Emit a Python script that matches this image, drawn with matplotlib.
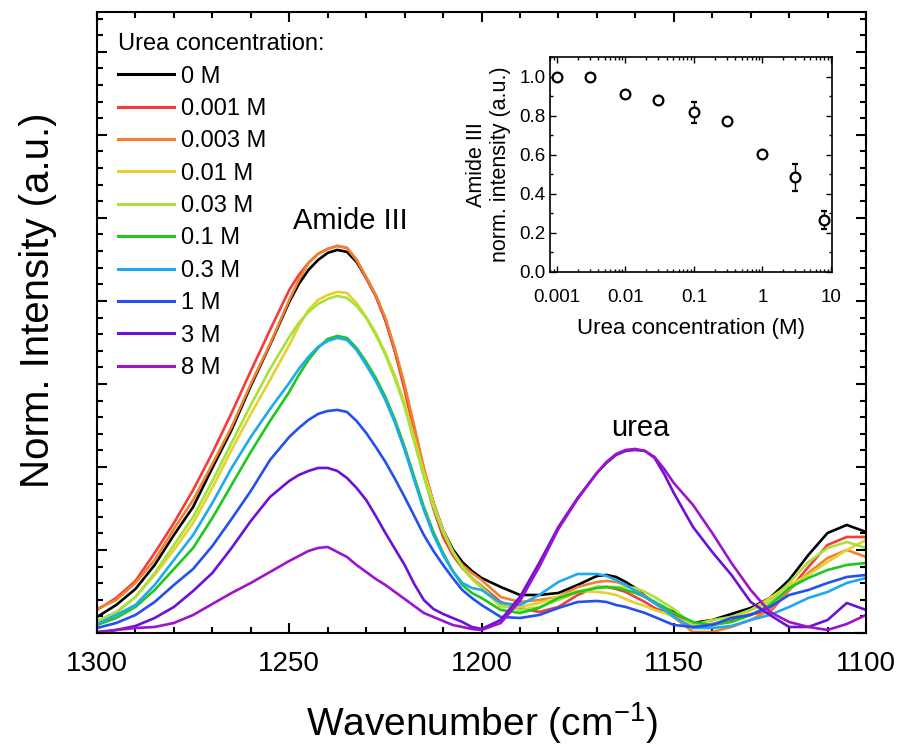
import numpy as np
import matplotlib.pyplot as plt
from matplotlib.ticker import MultipleLocator, LogLocator, NullFormatter

plt.rcParams['font.family'] = ['Liberation Sans', 'DejaVu Sans']

# sampling grid of the spectra (cm^-1), finer around the two peaks
wavenumber = [1300, 1295, 1290, 1285, 1280, 1275, 1270, 1265, 1260, 1255,
              1250, 1247.5, 1245, 1242.5, 1240, 1237.5, 1235, 1232.5, 1230, 1227.5, 1225,
              1222.5, 1220, 1217.5, 1215, 1212.5, 1210, 1207.5, 1205, 1202.5, 1200,
              1195, 1190, 1185, 1180, 1175,
              1170, 1167.5, 1165, 1162.5, 1160, 1157.5, 1155, 1152.5, 1150,
              1145, 1140, 1135, 1130, 1125, 1120, 1115, 1110, 1105, 1100]

# raw baseline-corrected intensities, one list per urea concentration
i_0M = [16, 28, 44, 68, 98, 126, 165, 203, 247, 288,
        331, 349, 363, 373, 380, 383, 381, 371, 355, 337, 313, 282, 246, 204, 163, 130, 103, 84, 71, 62, 55,
        46, 38, 38, 40, 48,
        57, 58, 56, 51, 45, 37, 30, 25, 21,
        10, 13, 19, 25, 35, 53, 78, 100, 108, 101]
i_0001M = [23, 35, 52, 80, 110, 143, 180, 220, 262, 303,
           343, 358, 370, 379, 384, 387, 385, 373, 355, 337, 313, 281, 243, 200, 158, 124, 96, 78, 65, 55, 47,
           31, 25, 21, 26, 38,
           46, 46, 44, 41, 36, 31, 25, 21, 18,
           8, 9, 13, 19, 21, 43, 66, 88, 96, 96]
i_0003M = [24, 33, 50, 73, 104, 133, 169, 206, 249, 289,
           333, 353, 370, 379, 384, 387, 385, 373, 356, 338, 315, 284, 248, 207, 165, 130, 101, 81, 68, 60, 53,
           36, 31, 33, 36, 46,
           51, 52, 51, 48, 43, 37, 31, 24, 16,
           1, 1, 6, 13, 23, 43, 60, 75, 83, 76]
i_001M = [11, 20, 36, 58, 83, 110, 145, 183, 219, 253,
          288, 307, 323, 333, 338, 341, 340, 330, 316, 300, 280, 257, 230, 195, 160, 129, 103, 82, 66, 54, 45,
          26, 26, 30, 36, 42,
          41, 40, 38, 34, 30, 27, 23, 20, 16,
          8, 8, 15, 23, 35, 48, 58, 71, 83, 93]
i_003M = [12, 21, 36, 60, 88, 116, 152, 190, 228, 264,
          296, 310, 321, 329, 334, 337, 335, 327, 315, 298, 278, 254, 226, 191, 156, 126, 101, 81, 66, 55, 46,
          28, 23, 26, 33, 41,
          46, 46, 46, 46, 45, 41, 36, 30, 24,
          8, 13, 16, 23, 31, 50, 71, 85, 91, 85]
i_01M = [8, 15, 26, 43, 64, 85, 115, 148, 181, 212,
         241, 258, 273, 285, 294, 297, 295, 285, 271, 255, 236, 213, 186, 156, 126, 101, 80, 62, 48, 40, 35,
         23, 20, 25, 35, 41,
         45, 46, 45, 43, 40, 36, 31, 26, 20,
         11, 8, 11, 18, 28, 45, 55, 63, 68, 70]
i_03M = [9, 18, 28, 48, 73, 98, 130, 165, 196, 224,
         250, 264, 276, 286, 292, 295, 293, 283, 268, 252, 233, 210, 183, 153, 123, 98, 78, 62, 50, 45, 43,
         30, 28, 38, 51, 59,
         59, 57, 53, 48, 42, 36, 30, 23, 16,
         5, 5, 7, 13, 18, 26, 35, 41, 50, 55]
i_1M = [5, 10, 18, 31, 48, 64, 87, 114, 142, 173,
        196, 205, 213, 219, 222, 223, 221, 212, 200, 186, 171, 154, 136, 117, 98, 82, 68, 55, 43, 35, 28,
        16, 15, 18, 25, 31,
        32, 31, 28, 26, 23, 20, 16, 12, 8,
        6, 8, 15, 18, 26, 38, 43, 50, 56, 58]
i_3M = [1, 3, 7, 15, 26, 42, 60, 85, 112, 136,
        152, 158, 162, 165, 165, 162, 155, 145, 133, 117, 100, 84, 68, 49, 33, 24, 19, 15, 11, 6, 4,
        13, 36, 70, 106, 135,
        160, 170, 178, 182, 183, 182, 175, 159, 140,
        106, 81, 58, 31, 18, 6, 6, 13, 30, 23]
i_8M = [0, 3, 5, 6, 10, 18, 29, 40, 50, 61,
        72, 77, 82, 85, 86, 81, 76, 68, 61, 54, 48, 41, 34, 27, 20, 16, 12, 8, 6, 4, 3,
        10, 32, 66, 104, 134,
        160, 171, 179, 183, 184, 182, 176, 164, 150,
        128, 100, 70, 43, 21, 11, 6, 3, 9, 18]
norm = 830.0

labels = ['0 M', '0.001 M', '0.003 M', '0.01 M', '0.03 M', '0.1 M', '0.3 M', '1 M', '3 M', '8 M']
colors = ['#000000', '#f53c3c', '#f0822d', '#e6d132', '#a6e23a', '#1ec81e', '#1ea9f0', '#2450f0',
          '#6c12d8', '#9c14cc']
spectra = [i_0M, i_0001M, i_0003M, i_001M, i_003M, i_01M, i_03M, i_1M, i_3M, i_8M]

# inset: amide III intensity vs urea concentration
urea_conc = [0.001, 0.003, 0.01, 0.03, 0.1, 0.3, 1, 3, 8]
amide_int = [1.0, 1.0, 0.91, 0.88, 0.817, 0.773, 0.602, 0.484, 0.265]
amide_err = [0.012, 0.012, 0.01, 0.012, 0.055, 0.012, 0.008, 0.07, 0.047]

fig = plt.figure(figsize=(9.04, 7.46), dpi=100)
ax = fig.add_axes([0.1073, 0.1515, 0.8507, 0.8324])

for y, c, lab in zip(spectra, colors, labels):
    ax.plot(wavenumber, np.array(y) / norm, color=c, lw=1.9, label=lab, solid_joinstyle='round')

ax.set_xlim(1300, 1100)
ax.set_ylim(0, 0.748)
ax.xaxis.set_major_locator(MultipleLocator(50))
ax.xaxis.set_minor_locator(MultipleLocator(10))
ax.yaxis.set_major_locator(MultipleLocator(0.1))
ax.yaxis.set_minor_locator(MultipleLocator(0.02))
ax.tick_params(which='both', direction='in', top=True, right=True, labelleft=False, width=1.5)
ax.tick_params(which='major', length=7.5, labelsize=20, pad=13)
ax.tick_params(which='minor', length=4.5)
for s in ax.spines.values():
    s.set_linewidth(1.5)
ax.set_xlabel('Wavenumber (cm$^{\\mathregular{-1}}$)', fontsize=28, labelpad=17)
ax.set_ylabel('Norm. Intensity (a.u.)', fontsize=29)
ax.yaxis.set_label_coords(-0.052, 0.536)

ax.text(1234.2, 0.496, 'Amide III', fontsize=21, ha='center', va='center')
ax.text(1158.8, 0.247, 'urea', fontsize=21, ha='center', va='center')

leg = ax.legend(loc='upper left', bbox_to_anchor=(-0.004, 1.004), frameon=False, fontsize=17,
                title='Urea concentration:', title_fontsize=17, alignment='left',
                handlelength=2.4, handletextpad=0.3, labelspacing=0.44, borderaxespad=0.6)
for line in leg.get_lines():
    line.set_linewidth(2.2)

# inset
axin = fig.add_axes([0.6084, 0.6354, 0.312, 0.2882])
axin.errorbar(urea_conc, amide_int, yerr=amide_err, fmt='o', mfc='white', mec='black', mew=1.6,
              ms=7, ecolor='black', elinewidth=1.0, capsize=2)
axin.set_xscale('log')
axin.set_xlim(0.00079, 10.4)
axin.set_ylim(0, 1.1)
axin.set_xticks([0.001, 0.01, 0.1, 1, 10])
axin.set_xticklabels(['0.001', '0.01', '0.1', '1', '10'])
axin.xaxis.set_minor_locator(LogLocator(base=10, subs=np.arange(2, 10), numticks=20))
axin.xaxis.set_minor_formatter(NullFormatter())
axin.yaxis.set_major_locator(MultipleLocator(0.2))
axin.yaxis.set_minor_locator(MultipleLocator(0.1))
axin.tick_params(which='both', direction='in', top=True, right=True, width=1.0)
axin.tick_params(which='major', length=4.5, labelsize=13.5)
axin.tick_params(axis='x', which='major', pad=12)
axin.tick_params(axis='y', which='major', pad=3)
axin.tick_params(which='minor', length=2.5)
for s in axin.spines.values():
    s.set_linewidth(1.2)
axin.set_xlabel('Urea concentration (M)', fontsize=16, labelpad=9)
axin.set_ylabel('Amide III\nnorm. intensity (a.u.)', fontsize=15.5, labelpad=6)

fig.savefig('out.png', dpi=100)
